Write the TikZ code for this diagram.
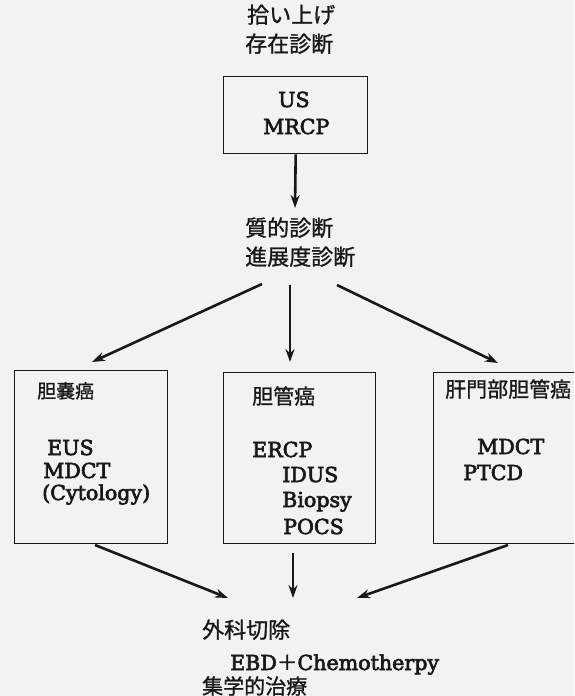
\documentclass[tikz,border=0pt]{standalone}
\usepackage{fontspec}
\setmainfont{DejaVu Serif}
\newfontfamily\lat{DejaVu Serif}[FakeBold=3]
\newfontfamily\jp{Noto Sans CJK JP}[FakeBold=1]
\usetikzlibrary{arrows.meta}
\definecolor{paper}{RGB}{242,242,240}
\definecolor{ink}{RGB}{24,24,24}
\begin{document}
\begin{tikzpicture}[x=1pt,y=-1pt,
  box/.style={draw=ink,line width=1.4pt,anchor=north west,inner sep=0pt},
  arr/.style={draw=ink,line width=2.6pt,-{Stealth[length=13pt,width=9pt]}},
  lat/.style={anchor=base west,inner sep=0pt,text=ink,font=\lat\fontsize{20.6}{24}\selectfont},
  jtxt/.style={anchor=base west,inner sep=0pt,text=ink,font=\jp\fontsize{22}{26}\selectfont},
  jsmall/.style={jtxt,font=\jp\fontsize{19}{22}\selectfont},
  jmid/.style={jtxt,font=\jp\fontsize{21}{24}\selectfont},
]
\fill[paper] (0,0) rectangle (574,696);
\clip (0,0) rectangle (574,696);

% screening stage
\node[jtxt] (pick) at (247,23) {拾い上げ};
\node[jtxt] (exist) at (245,52) {存在診断};
\node[box,minimum width=144,minimum height=77] (us) at (223,76) {};
\node[lat] (usA) at (278,107) {US};
\node[lat] (usB) at (263,134) {MRCP};

% qualitative diagnosis
\node[jtxt] (qual) at (245,236) {質的診断};
\node[jtxt] (stage) at (245,265) {進展度診断};

% three cancer boxes
\node[box,minimum width=153,minimum height=173] (gb) at (14,370) {};
\node[box,minimum width=152,minimum height=171] (bd) at (223,372) {};
\node[box,minimum width=200,minimum height=171] (hl) at (433,372) {};

\node[jsmall] (gbT) at (37,398) {胆嚢癌};
\node[lat] (gbA) at (47,455) {EUS};
\node[lat] (gbB) at (43,478) {MDCT};
\node[lat] (gbC) at (42,500) {(Cytology)};

\node[jmid] (bdT) at (252,404) {胆管癌};
\node[lat] (bdA) at (252,457) {ERCP};
\node[lat] (bdB) at (282,482) {IDUS};
\node[lat] (bdC) at (282,507) {Biopsy};
\node[lat] (bdD) at (283,534) {POCS};

\node[jmid] (hlT) at (445,397) {肝門部胆管癌};
\node[lat] (hlA) at (477,454) {MDCT};
\node[lat] (hlB) at (463,480) {PTCD};

% treatment
\node[jtxt] (surg) at (202,638) {外科切除};
\node[lat] (ebd) at (230,670) {EBD{\jp ＋}Chemotherpy};
\node[jtxt,font=\jp\fontsize{21}{24}\selectfont] (multi) at (202,694) {集学的治療};

% connector end points
\coordinate (stemTop) at (295,208);
\coordinate (fanL) at (262,284);
\coordinate (fanC) at (290,285);
\coordinate (fanR) at (337,285);
\coordinate (gbIn) at (92,362);
\coordinate (bdIn) at (290,362);
\coordinate (hlIn) at (498,363);
\coordinate (gbOut) at (95,545);
\coordinate (bdOut) at (293,553);
\coordinate (hlOut) at (508,545);
\coordinate (trL) at (228,598);
\coordinate (trC) at (293,598);
\coordinate (trR) at (357,598);

\draw[arr] (us.south) -- (stemTop);
\draw[arr] (fanL) -- (gbIn);
\draw[arr] (fanC) -- (bdIn);
\draw[arr] (fanR) -- (hlIn);
\draw[arr] (gbOut) -- (trL);
\draw[arr] (bdOut) -- (trC);
\draw[arr] (hlOut) -- (trR);
\end{tikzpicture}
\end{document}
